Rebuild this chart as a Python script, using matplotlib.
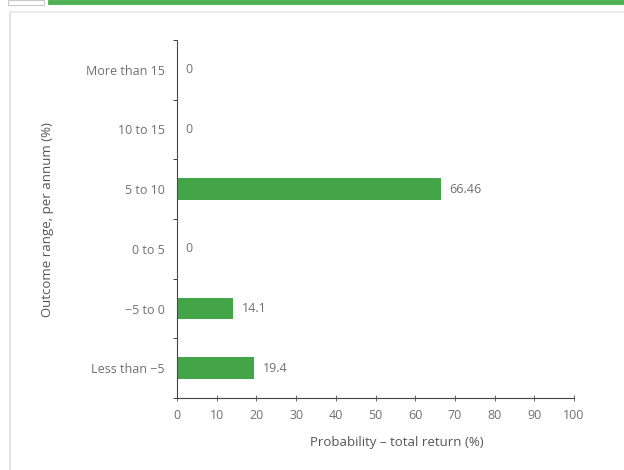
import matplotlib.pyplot as plt
from matplotlib.patches import Rectangle
from matplotlib.lines import Line2D

# Outcome ranges, bottom to top
categories = ['Less than \u22125', '\u22125 to 0', '0 to 5', '5 to 10', '10 to 15', 'More than 15']
probability = [19.4, 14.1, 0, 66.46, 0, 0]
value_labels = ['19.4', '14.1', '0', '66.46', '0', '0']
x_ticks = [0, 10, 20, 30, 40, 50, 60, 70, 80, 90, 100]

plt.rcParams['font.family'] = ['Open Sans', 'DejaVu Sans']
grey = '#707070'
green = '#43a548'

fig = plt.figure(figsize=(6.24, 4.7), dpi=100)

# page decoration: green header rule and light frame
fig.add_artist(Line2D([50 / 624, 1.0], [1 - 2 / 470, 1 - 2 / 470], color='#4caf50', lw=3.5))
fig.add_artist(Rectangle((8 / 624, 1 - 5 / 470), 36 / 624, 5 / 470, fill=False,
                         ec='#c8c8c8', lw=0.8))
fig.add_artist(Line2D([10 / 624, 10 / 624], [0, 1 - 12 / 470], color='#dedede', lw=1.2))
fig.add_artist(Line2D([10 / 624, 1.0], [1 - 12 / 470, 1 - 12 / 470], color='#e8e8e8', lw=1.2))

ax = fig.add_axes([177 / 624, 1 - 398 / 470, 397 / 624, 358 / 470])

ypos = list(range(len(categories)))
ax.barh(ypos, probability, height=0.36, color=green)

for y, v, lab in zip(ypos, probability, value_labels):
    ax.text(v + 2.2, y, lab, va='center', ha='left', fontsize=9, color=grey)

ax.set_xlim(0, 100)
ax.set_ylim(-0.5, len(categories) - 0.5)

ax.set_xticks(x_ticks)
ax.set_xticklabels([str(t) for t in x_ticks])
ax.set_yticks(ypos)
ax.set_yticklabels(categories)
ax.set_yticks([y - 0.5 for y in ypos] + [len(categories) - 0.5], minor=True)

ax.tick_params(axis='y', which='major', length=0, pad=9, labelsize=9, labelcolor=grey)
ax.tick_params(axis='y', which='minor', length=3, direction='out', color='#444444', width=0.7)
ax.tick_params(axis='x', length=4, direction='inout', pad=6, labelsize=9,
               labelcolor=grey, color='#666666', width=0.7)

for side in ['top', 'right']:
    ax.spines[side].set_visible(False)
for side in ['left', 'bottom']:
    ax.spines[side].set_color('#444444')
    ax.spines[side].set_linewidth(0.8)

ax.set_xlabel('Probability \u2013 total return (%)', fontsize=9.5, color='#555555')
ax.xaxis.set_label_coords(397 / 624, 1 - 436 / 470, transform=fig.transFigure)
ax.set_ylabel('Outcome range, per annum (%)', fontsize=9.5, color='#555555')
ax.yaxis.set_label_coords(54 / 624, 1 - 220 / 470, transform=fig.transFigure)

fig.savefig('out.png', dpi=100)
